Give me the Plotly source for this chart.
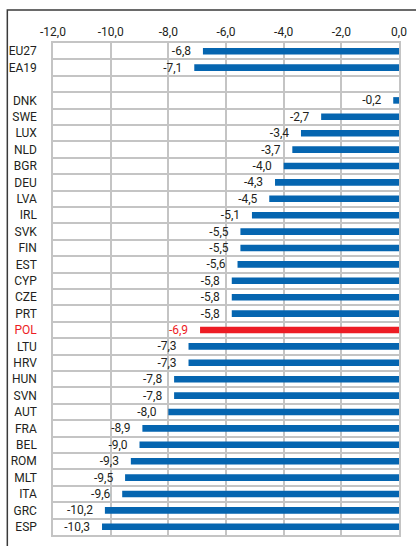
import plotly.graph_objects as go

countries = [
    "EU27", "EA19", "",
    "DNK", "SWE", "LUX", "NLD", "BGR", "DEU", "LVA", "IRL", "SVK", "FIN",
    "EST", "CYP", "CZE", "PRT", "POL", "LTU", "HRV", "HUN", "SVN", "AUT",
    "FRA", "BEL", "ROM", "MLT", "ITA", "GRC", "ESP",
]
values = [
    -6.8, -7.1, None,
    -0.2, -2.7, -3.4, -3.7, -4.0, -4.3, -4.5, -5.1, -5.5, -5.5,
    -5.6, -5.8, -5.8, -5.8, -6.9, -7.3, -7.3, -7.8, -7.8, -8.0,
    -8.9, -9.0, -9.3, -9.5, -9.6, -10.2, -10.3,
]
x_ticks = [-12, -10, -8, -6, -4, -2, 0]

BLUE = "#0565b0"
RED = "#ed1c24"
TEXT = "#231f20"
GRID = "#c4c4c4"
FONT = "Roboto, sans-serif"

highlight = "POL"
ypos = list(range(len(countries)))
colors = [RED if c == highlight else BLUE for c in countries]
text_colors = [RED if c == highlight else TEXT for c in countries]
# decimal comma labels, padded so they sit a little off the bar end
labels = ["" if v is None else f"{v:.1f}".replace(".", ",") + "\u00a0\u00a0\u00a0"
          for v in values]
ticktext = [f'<span style="color:{RED}">{c}</span>' if c == highlight else c
            for c in countries]

fig = go.Figure()
fig.add_trace(
    go.Bar(
        x=values,
        y=ypos,
        orientation="h",
        width=0.4,
        marker_color=colors,
        marker_line_width=0,
        text=labels,
        textposition="outside",
        constraintext="none",
        textfont=dict(color=text_colors, size=12, family=FONT),
        cliponaxis=False,
        hoverinfo="skip",
    )
)

fig.update_layout(
    width=416,
    height=546,
    margin=dict(l=53, r=15, t=43, b=9),
    paper_bgcolor="white",
    plot_bgcolor="white",
    showlegend=False,
    font=dict(family=FONT, size=12, color=TEXT),
    shapes=[
        dict(type="rect", xref="paper", yref="paper",
             x0=-0.132, x1=1.09, y0=-0.05, y1=1.067,
             line=dict(color="#3a3a3a", width=1.5)),
    ],
)
fig.update_xaxes(
    side="top",
    range=[-12, 0],
    tickvals=x_ticks,
    ticktext=[f"{t:.1f}".replace(".", ",") for t in x_ticks],
    showgrid=True,
    gridcolor=GRID,
    gridwidth=1.5,
    zeroline=False,
    showline=True,
    linecolor=GRID,
    linewidth=1.5,
    mirror=True,
    ticks="",
    ticklabelstandoff=0,
)
fig.update_yaxes(
    range=[len(countries) - 0.5, -0.5],
    tickvals=ypos,
    ticktext=ticktext,
    showgrid=False,
    minor=dict(tick0=0.5, dtick=1, showgrid=True, gridcolor=GRID, gridwidth=1.5),
    zeroline=False,
    showline=True,
    linecolor=GRID,
    linewidth=1.5,
    mirror=True,
    ticks="",
    ticklabelstandoff=12,
)

fig.write_html(
    "out.html",
    config={"displayModeBar": False},
    post_script="document.body.style.margin='0';",
)
